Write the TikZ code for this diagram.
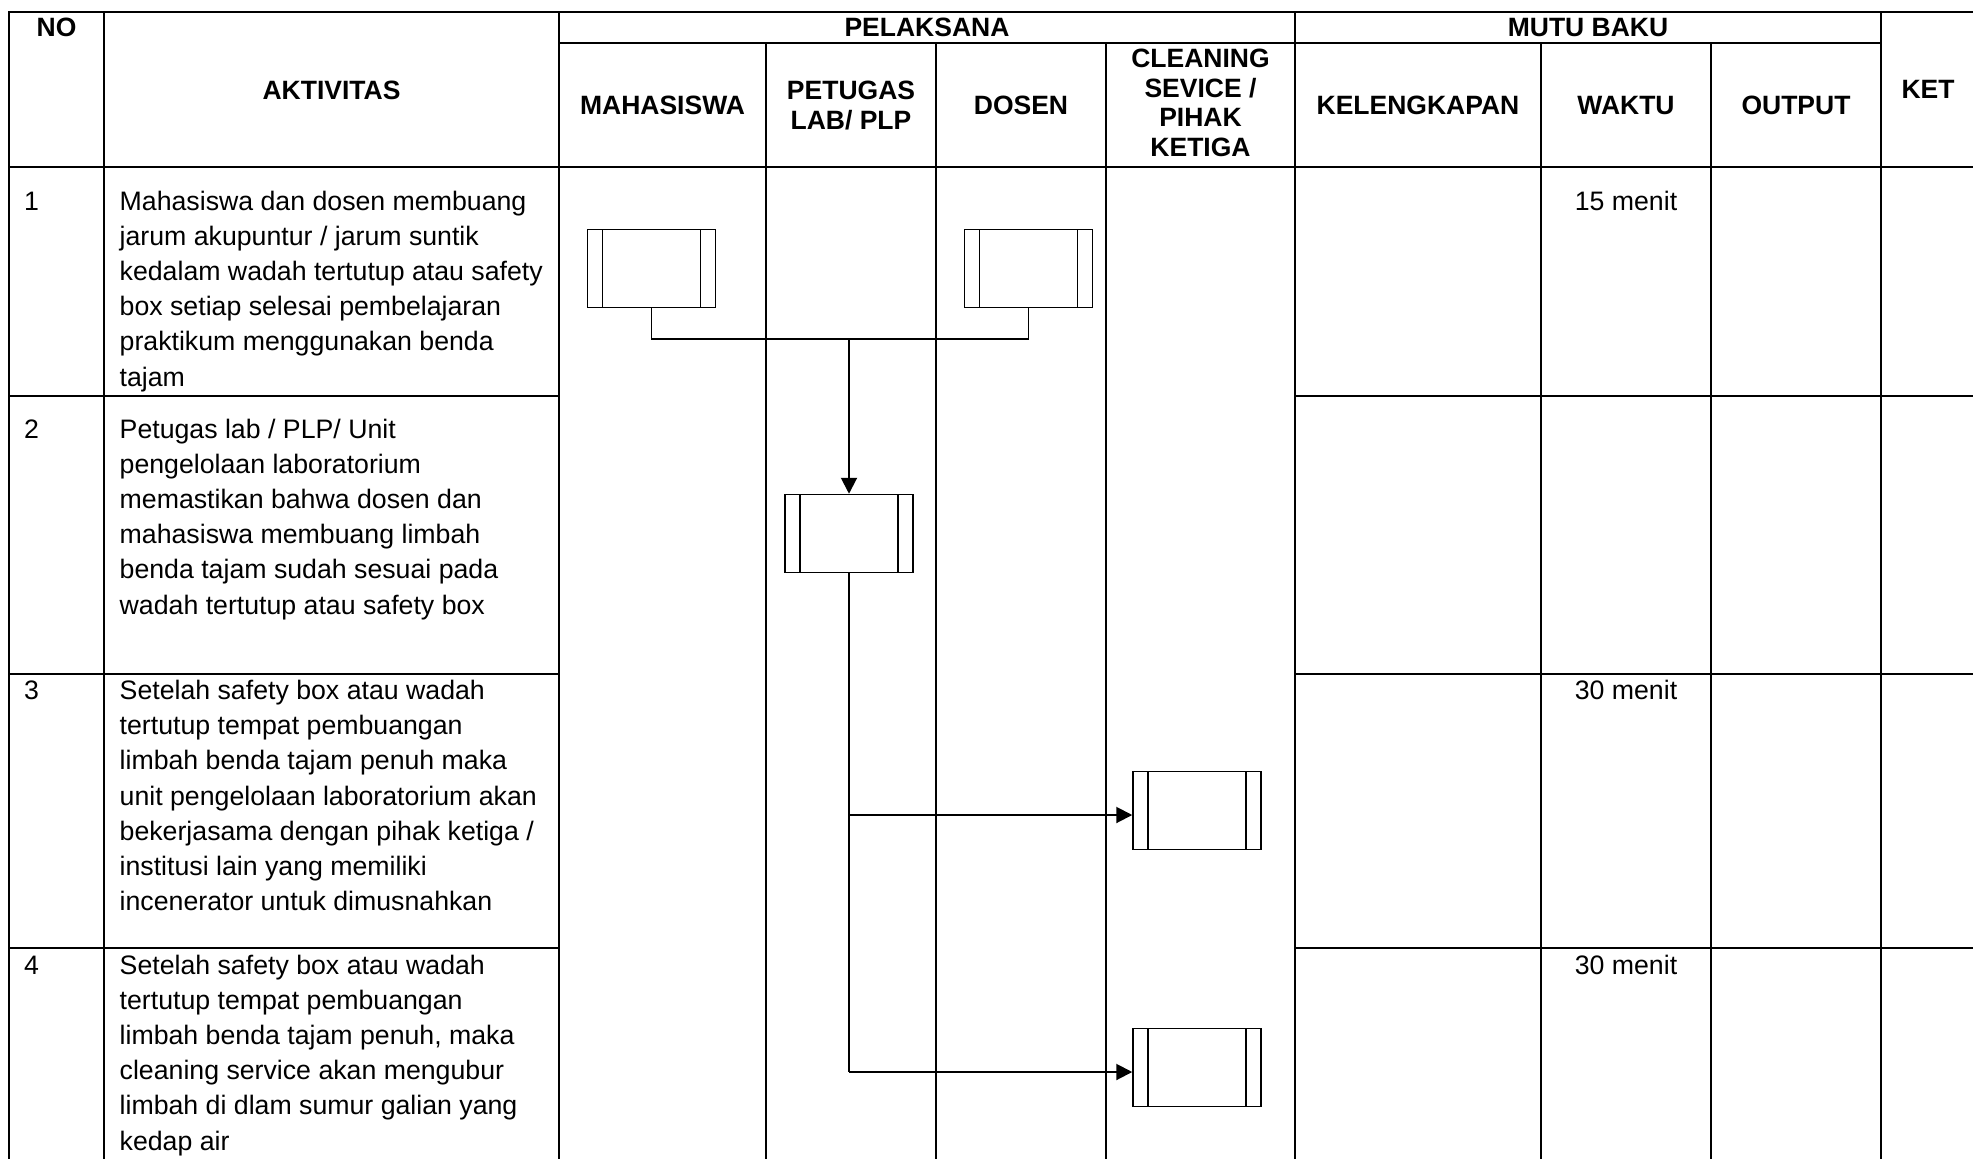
\documentclass[tikz,border=0pt]{standalone}
\usepackage{fontspec}
\setmainfont{Liberation Sans}
\usetikzlibrary{arrows.meta,calc}
\newcommand{\hdfont}{\fontsize{26.5}{29.5}\selectfont\bfseries}
\newcommand{\bdfont}{\fontsize{26.7}{35.2}\selectfont}
\newcommand{\mlines}[2]{\begin{tabular}[t]{@{}#1@{}}#2\end{tabular}}
\begin{document}
\begin{tikzpicture}[x=1pt,y=-1pt,
  tline/.style={line width=2.2pt, line cap=rect},
  hd/.style={inner sep=0pt, anchor=base, font=\hdfont},
  bd/.style={inner sep=0pt, anchor=base west, font=\bdfont},
  proc/.style={draw, line width=1.5pt, minimum width=128pt, minimum height=78pt,
    inner sep=0pt, fill=white,
    path picture={\draw[line width=1.5pt]
      ([xshift=15pt]path picture bounding box.north west) -- ([xshift=15pt]path picture bounding box.south west)
      ([xshift=-15pt]path picture bounding box.north east) -- ([xshift=-15pt]path picture bounding box.south east);}},
  conn/.style={line width=1.5pt},
  arr/.style={line width=2pt, -{Triangle[length=16pt,width=16pt]}}]
\useasboundingbox (0,0) rectangle (1973,1159);
\fill[white] (0,0) rectangle (1973,1159);
\clip (0,0) rectangle (1973,1159);

% ---- table grid ----
\draw[tline] (9,12) -- (1976,12);
\draw[tline] (9,167) -- (1976,167);
\draw[tline] (559,43) -- (1881,43);
\foreach \x in {9,104,559,1295,1881,1976} \draw[tline] (\x,12) -- (\x,1175);
\foreach \x in {766,936,1106,1541,1711} \draw[tline] (\x,43) -- (\x,1175);
\foreach \y in {396,674,948} {
  \draw[tline] (9,\y) -- (559,\y);
  \draw[tline] (1295,\y) -- (1976,\y);
}

% ---- header ----
\node[hd] (hNO) at (56.5,36) {NO};
\node[hd] (hAKT) at (331.5,99) {AKTIVITAS};
\node[hd] (hPEL) at (927,36) {PELAKSANA};
\node[hd] (hMUTU) at (1588,36) {MUTU BAKU};
\node[hd] (hKET) at (1928,98) {KET};
\node[hd] (hMAH) at (662.5,114.5) {MAHASISWA};
\node[hd] (hPET) at (851,99.5) {\mlines{c}{PETUGAS\\LAB/ PLP}};
\node[hd] (hDOS) at (1021,114.5) {DOSEN};
\node[hd] (hCLE) at (1200.5,67.5) {\mlines{c}{CLEANING\\SEVICE /\\PIHAK\\KETIGA}};
\node[hd] (hKEL) at (1418,114.5) {KELENGKAPAN};
\node[hd] (hWAK) at (1626,114.5) {WAKTU};
\node[hd] (hOUT) at (1796,114.5) {OUTPUT};

% ---- body ----
\node[bd] (n1) at (24,210) {1};
\node[bd] (n2) at (24,438) {2};
\node[bd] (n3) at (24,699.5) {3};
\node[bd] (n4) at (24,974) {4};

\node[bd] (t1) at (119.5,210) {\mlines{l}{Mahasiswa dan dosen membuang\\jarum akupuntur / jarum suntik\\kedalam wadah tertutup atau safety\\box setiap selesai pembelajaran\\praktikum menggunakan benda\\tajam}};
\node[bd] (t2) at (119.5,438) {\mlines{l}{Petugas lab / PLP/ Unit\\pengelolaan laboratorium\\memastikan bahwa dosen dan\\mahasiswa membuang limbah\\benda tajam sudah sesuai pada\\wadah tertutup atau safety box}};
\node[bd] (t3) at (119.5,699.5) {\mlines{l}{Setelah safety box atau wadah\\tertutup tempat pembuangan\\limbah benda tajam penuh maka\\unit pengelolaan laboratorium akan\\bekerjasama dengan pihak ketiga /\\institusi lain yang memiliki\\incenerator untuk dimusnahkan}};
\node[bd] (t4) at (119.5,974) {\mlines{l}{Setelah safety box atau wadah\\tertutup tempat pembuangan\\limbah benda tajam penuh, maka\\cleaning service akan mengubur\\limbah di dlam sumur galian yang\\kedap air}};

\node[bd, anchor=base] (w1) at (1626,210) {15 menit};
\node[bd, anchor=base] (w3) at (1626,699.5) {30 menit};
\node[bd, anchor=base] (w4) at (1626,974) {30 menit};

% ---- flow ----
\node[proc] (A) at (651.5,268.5) {};
\node[proc] (B) at (1028.5,268.5) {};
\node[proc] (C) at (849,533.5) {};
\node[proc] (D) at (1197,810.5) {};
\node[proc] (E) at (1197,1067.5) {};
\coordinate (j0) at (849,339);
\coordinate (j1) at (849,815);
\coordinate (j2) at (849,1072);

\draw[conn] (A.south) |- (j0) -| (B.south);
\draw[arr] (j0) -- (C.north);
\draw[conn] (C.south) -- (j2);
\draw[arr] (j1) -- (j1 -| D.west);
\draw[arr] (j2) -- (j2 -| E.west);
\end{tikzpicture}
\end{document}
